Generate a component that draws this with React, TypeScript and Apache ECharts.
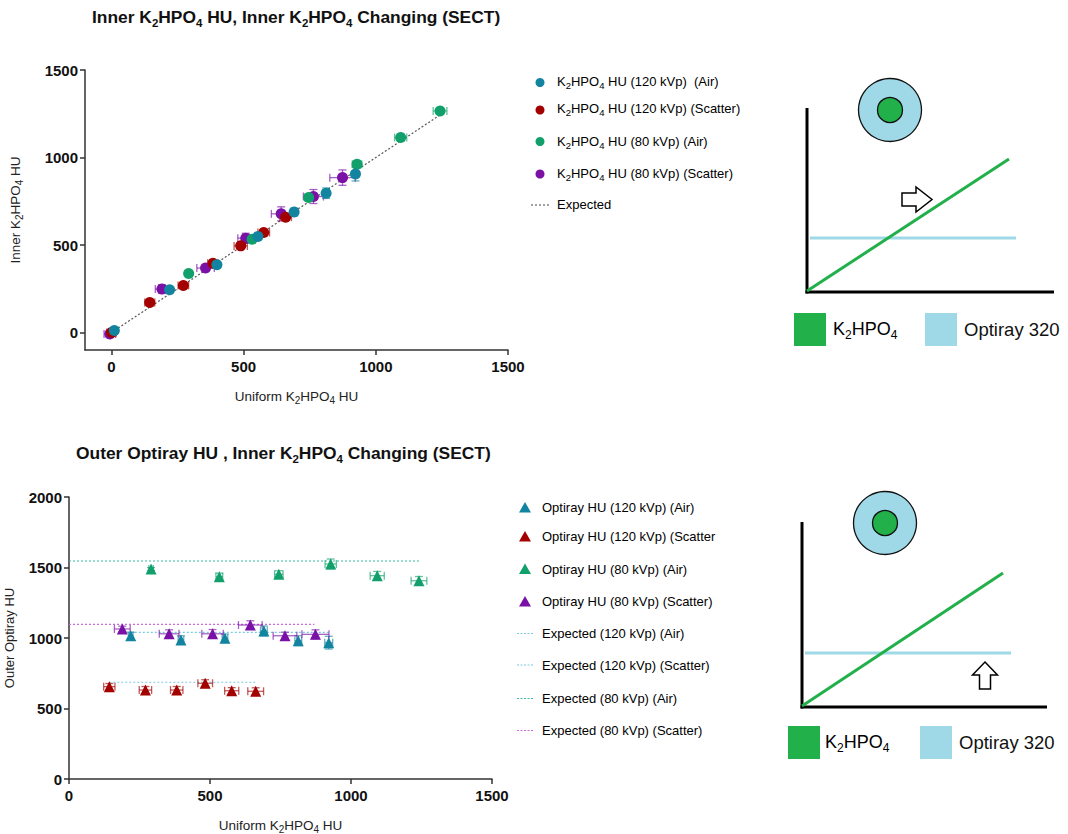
import React, { useEffect, useRef } from "react";
import * as echarts from "echarts";

const FONT = "'Liberation Sans', Arial, Helvetica, sans-serif";

// ---------- tick labels ----------
const xTicks = [0, 500, 1000, 1500];
const innerYTicks = [0, 500, 1000, 1500];
const outerYTicks = [0, 500, 1000, 1500, 2000];

// ---------- top chart: Inner K2HPO4 HU ----------
const inAir120X = [11, 220, 399, 554, 691, 812, 923];
const inAir120Y = [11, 244, 387, 548, 688, 796, 906];
const inAir120XErr = [6, 8, 8, 10, 10, 12, 12];
const inAir120YErr = [8, 12, 15, 18, 22, 30, 40];

const inSct120X = [0, 145, 272, 384, 489, 576, 659];
const inSct120Y = [0, 171, 269, 396, 495, 571, 659];
const inSct120XErr = [18, 19, 20, 20, 25, 22, 22];
const inSct120YErr = [6, 8, 7, 9, 8, 10, 9];

const inAir80X = [292, 532, 746, 929, 1094, 1243];
const inAir80Y = [337, 533, 771, 962, 1114, 1266];
const inAir80XErr = [10, 12, 15, 18, 23, 26];
const inAir80YErr = [6, 6, 8, 14, 10, 8];

const inSct80X = [-6, 191, 356, 508, 642, 764, 874];
const inSct80Y = [-8, 248, 368, 539, 678, 777, 885];
const inSct80XErr = [22, 25, 33, 30, 37, 38, 48];
const inSct80YErr = [10, 25, 15, 28, 40, 40, 44];

const expInnerX = [0, 1243];
const expInnerY = [0, 1243];

// ---------- bottom chart: Outer Optiray HU ----------
const outAir120X = [219, 397, 553, 691, 813, 921];
const outAir120Y = [1016, 986, 998, 1050, 981, 967];
const outAir120XErr = [8, 10, 10, 12, 12, 14];
const outAir120YErr = [25, 30, 30, 35, 35, 45];

const outSct120X = [143, 271, 382, 483, 577, 662];
const outSct120Y = [655, 631, 631, 679, 626, 622];
const outSct120XErr = [20, 22, 22, 26, 25, 28];
const outSct120YErr = [22, 25, 25, 25, 22, 25];

const outAir80X = [291, 533, 744, 928, 1093, 1241];
const outAir80Y = [1489, 1435, 1452, 1525, 1442, 1406];
const outAir80XErr = [8, 12, 15, 20, 25, 28];
const outAir80YErr = [10, 25, 25, 35, 30, 30];

const outSct80X = [189, 355, 509, 643, 766, 874];
const outSct80Y = [1064, 1030, 1030, 1092, 1016, 1026];
const outSct80XErr = [28, 35, 38, 42, 42, 48];
const outSct80YErr = [20, 28, 30, 30, 25, 32];

const expAir120X = [219, 921];
const expAir120Y = [1040, 1040];
const expSct120X = [143, 662];
const expSct120Y = [686, 686];
const expAir80X = [0, 1241];
const expAir80Y = [1546, 1546];
const expSct80X = [0, 870];
const expSct80Y = [1097, 1097];

// ---------- texts ----------
const title1 = "Inner K2HPO4 HU, Inner K2HPO4 Changing (SECT)";
const title2 = "Outer Optiray HU , Inner K2HPO4 Changing (SECT)";
const innerYName = "Inner K2HPO4 HU";
const uniformXName = "Uniform K2HPO4 HU";
const outerYName = "Outer Optiray HU";

const topLegend = [
  "K2HPO4 HU (120 kVp)  (Air)",
  "K2HPO4 HU (120 kVp) (Scatter)",
  "K2HPO4 HU (80 kVp) (Air)",
  "K2HPO4 HU (80 kVp) (Scatter)",
  "Expected",
];
const bottomLegend = [
  "Optiray HU (120 kVp) (Air)",
  "Optiray HU (120 kVp) (Scatter",
  "Optiray HU (80 kVp) (Air)",
  "Optiray HU (80 kVp) (Scatter)",
  "Expected (120 kVp) (Air)",
  "Expected (120 kVp) (Scatter)",
  "Expected (80 kVp) (Air)",
  "Expected (80 kVp) (Scatter)",
];
const diagramLabels = ["K2HPO4", "Optiray 320"];

// ---------- colours ----------
const C_TEAL = "#12849f";
const C_RED = "#a30000";
const C_GREEN = "#11a06b";
const C_PURPLE = "#7a10a6";
const C_EXP120 = "#7cc9dd";
const C_EXP80AIR = "#3dbba4";
const C_EXP80SCT = "#cc6ade";
const C_DIAG_GREEN = "#22b04b";
const C_DIAG_BLUE = "#9fd9e8";

function richK(s: string, a = "a", sb = "s"): string {
  const parts = s.split("K2HPO4");
  let out = "";
  parts.forEach((p, i) => {
    if (i > 0) out += `{${a}|K}{${sb}|2}{${a}|HPO}{${sb}|4}`;
    if (p) out += `{${a}|${p}}`;
  });
  return out;
}

const pairs = (xs: number[], ys: number[]) => xs.map((x, i) => [x, ys[i]]);

function errorSeries(
  xs: number[], ys: number[], xe: number[], ye: number[],
  color: string, idx: number
) {
  return {
    type: "custom",
    xAxisIndex: idx,
    yAxisIndex: idx,
    silent: true,
    z: 2,
    encode: { x: 0, y: 1 },
    data: xs.map((x, i) => [x, ys[i], xe[i], ye[i]]),
    renderItem: (params: any, api: any) => {
      const x = api.value(0), y = api.value(1), ex = api.value(2), ey = api.value(3);
      const c = api.coord([x, y]);
      const l = api.coord([x - ex, y]);
      const r = api.coord([x + ex, y]);
      const t = api.coord([x, y + ey]);
      const b = api.coord([x, y - ey]);
      const cap = 4;
      const style = { stroke: color, lineWidth: 1.3, fill: null, opacity: 0.65 };
      return {
        type: "group",
        children: [
          { type: "line", shape: { x1: l[0], y1: c[1], x2: r[0], y2: c[1] }, style },
          { type: "line", shape: { x1: l[0], y1: c[1] - cap, x2: l[0], y2: c[1] + cap }, style },
          { type: "line", shape: { x1: r[0], y1: c[1] - cap, x2: r[0], y2: c[1] + cap }, style },
          { type: "line", shape: { x1: c[0], y1: t[1], x2: c[0], y2: b[1] }, style },
          { type: "line", shape: { x1: c[0] - cap, y1: t[1], x2: c[0] + cap, y2: t[1] }, style },
          { type: "line", shape: { x1: c[0] - cap, y1: b[1], x2: c[0] + cap, y2: b[1] }, style },
        ],
      };
    },
  };
}

function scatterSeries(name: string, xs: number[], ys: number[], color: string, idx: number, symbol: string, size: number) {
  return {
    type: "scatter",
    name,
    xAxisIndex: idx,
    yAxisIndex: idx,
    symbol,
    symbolSize: size,
    z: 3,
    itemStyle: { color, opacity: 1 },
    data: pairs(xs, ys),
  };
}

function lineSeries(name: string, xs: number[], ys: number[], color: string, idx: number, dash: number[]) {
  return {
    type: "line",
    name,
    xAxisIndex: idx,
    yAxisIndex: idx,
    symbol: "none",
    silent: true,
    z: 1,
    lineStyle: { color, width: 1.2, type: dash },
    data: pairs(xs, ys),
  };
}

const plain = (v: number) => String(v);
const tickLabel = { fontSize: 15, fontWeight: "bold", color: "#111", fontFamily: FONT, formatter: plain };
const axisLine = { show: true, onZero: false, lineStyle: { color: "#333", width: 1.5 } };
const axisTick = (vals: number[]) => ({ show: true, length: 5, lineStyle: { color: "#333", width: 1.5 }, customValues: vals });

const nameRich = {
  a: { fontSize: 13.5, fontFamily: FONT, color: "#222", lineHeight: 16 },
  s: { fontSize: 10, fontFamily: FONT, color: "#222", lineHeight: 16, height: 7, verticalAlign: "bottom" },
};
const titleRich = {
  t: { fontSize: 17.4, fontWeight: "bold", fontFamily: FONT, color: "#111", lineHeight: 20 },
  s: { fontSize: 11.5, fontWeight: "bold", fontFamily: FONT, color: "#111", lineHeight: 20, height: 9, verticalAlign: "bottom" },
};
const legendRich = {
  a: { fontSize: 13, fontFamily: FONT, color: "#4a4a4a", lineHeight: 15 },
  s: { fontSize: 9.5, fontFamily: FONT, color: "#4a4a4a", lineHeight: 15, height: 6, verticalAlign: "bottom" },
};
const diagRich = {
  a: { fontSize: 18, fontFamily: FONT, color: "#111", lineHeight: 22 },
  s: { fontSize: 12, fontFamily: FONT, color: "#111", lineHeight: 22, height: 10, verticalAlign: "bottom" },
};

function buildGraphics() {
  const g: any[] = [];
  // top legend
  const topColors = [C_TEAL, C_RED, C_GREEN, C_PURPLE];
  const topMarkY = [82.5, 110, 141.5, 174];
  const topTextY = [81, 108, 141, 173, 204];
  topColors.forEach((c, i) => {
    g.push({ type: "circle", shape: { cx: 540, cy: topMarkY[i], r: 4.5 }, style: { fill: c } });
  });
  g.push({ type: "line", shape: { x1: 531, y1: 205, x2: 549, y2: 205 }, style: { stroke: "#444", lineWidth: 1, lineDash: [2, 2] } });
  topLegend.forEach((t, i) => {
    g.push({
      type: "text", x: 557, y: topTextY[i],
      style: { text: richK(t), rich: legendRich, verticalAlign: "middle", align: "left" },
    });
  });

  // bottom legend
  const botColors = [C_TEAL, C_RED, C_GREEN, C_PURPLE];
  const botLineColors = [C_EXP120, C_EXP120, C_EXP80AIR, C_EXP80SCT];
  const botY = [507.5, 536.5, 569, 601.5, 633.5, 665, 698.5, 730.5];
  botColors.forEach((c, i) => {
    const cy = botY[i];
    g.push({ type: "polygon", shape: { points: [[525, cy - 5.5], [531, cy + 5], [519, cy + 5]] }, style: { fill: c } });
  });
  botLineColors.forEach((c, i) => {
    const cy = botY[i + 4];
    g.push({ type: "line", shape: { x1: 517, y1: cy, x2: 534, y2: cy }, style: { stroke: c, lineWidth: 1.2, lineDash: [2, 1.5] } });
  });
  bottomLegend.forEach((t, i) => {
    g.push({
      type: "text", x: 542, y: botY[i],
      style: { text: `{a|${t}}`, rich: legendRich, verticalAlign: "middle", align: "left" },
    });
  });

  // diagrams
  const diag = (ox: number, oy: number, circ: [number, number], axisTop: number, axisBottom: number, axisRight: number,
    greenEnd: [number, number], blueY: number, blueX: [number, number], arrow: number[][], legY: number, legX: [number, number, number, number]) => {
    g.push({ type: "circle", shape: { cx: circ[0], cy: circ[1], r: 31.5 }, style: { fill: C_DIAG_BLUE, stroke: "#111", lineWidth: 1.3 } });
    g.push({ type: "circle", shape: { cx: circ[0], cy: circ[1], r: 12.5 }, style: { fill: C_DIAG_GREEN, stroke: "#111", lineWidth: 1.3 } });
    g.push({ type: "line", shape: { x1: ox, y1: axisTop, x2: ox, y2: axisBottom + 1.5 }, style: { stroke: "#000", lineWidth: 3 } });
    g.push({ type: "line", shape: { x1: ox - 1.5, y1: axisBottom, x2: axisRight, y2: axisBottom }, style: { stroke: "#000", lineWidth: 3 } });
    g.push({ type: "line", shape: { x1: blueX[0], y1: blueY, x2: blueX[1], y2: blueY }, style: { stroke: C_DIAG_BLUE, lineWidth: 3 } });
    g.push({ type: "line", shape: { x1: ox, y1: oy, x2: greenEnd[0], y2: greenEnd[1] }, style: { stroke: C_DIAG_GREEN, lineWidth: 3 } });
    g.push({ type: "polygon", shape: { points: arrow }, style: { fill: "#fff", stroke: "#000", lineWidth: 1.5 } });
    g.push({ type: "rect", shape: { x: legX[0], y: legY - 16, width: 32, height: 33 }, style: { fill: C_DIAG_GREEN } });
    g.push({ type: "text", x: legX[1], y: legY, style: { text: richK(diagramLabels[0]), rich: diagRich, verticalAlign: "middle", align: "left" } });
    g.push({ type: "rect", shape: { x: legX[2], y: legY - 16, width: 32, height: 33 }, style: { fill: C_DIAG_BLUE } });
    g.push({ type: "text", x: legX[3], y: legY, style: { text: diagramLabels[1], fill: "#111", fontSize: 18.5, fontFamily: FONT, verticalAlign: "middle", align: "left" } });
  };
  diag(807, 291, [890, 110], 108, 292, 1054, [1009, 159], 238, [810, 1016],
    [[902, 193], [916, 193], [916, 187], [932, 199.5], [916, 212], [916, 206], [902, 206]],
    329, [794, 833, 925, 964]);
  diag(802, 706, [885, 523], 522, 707, 1047, [1003, 573], 653, [805, 1011],
    [[985, 662], [997.5, 675], [990.5, 675], [990.5, 689], [979.5, 689], [979.5, 675], [972.5, 675]],
    742, [788, 825, 920, 959]);
  return g;
}

export default function App() {
  const ref = useRef<HTMLDivElement>(null);
  useEffect(() => {
    if (!ref.current) return;
    const chart = echarts.init(ref.current, undefined, { renderer: "svg" });
    const option: any = {
      animation: false,
      backgroundColor: "#fff",
      title: [
        { text: richK(title1, "t", "s"), left: 87, top: 2, textStyle: { rich: titleRich } },
        { text: richK(title2, "t", "s"), left: 71, top: 438, textStyle: { rich: titleRich } },
      ],
      grid: [
        { left: 85, top: 70, width: 423, height: 280, containLabel: false, outerBoundsMode: "none" },
        { left: 69, top: 497, width: 423, height: 282, containLabel: false, outerBoundsMode: "none" },
      ],
      xAxis: [
        {
          type: "value", gridIndex: 0, min: -100, max: 1500,
          splitLine: { show: false }, axisLine, axisTick: axisTick(xTicks),
          axisLabel: { ...tickLabel, margin: 9, customValues: xTicks },
          name: richK(uniformXName), nameLocation: "middle", nameGap: 38,
          nameTextStyle: { rich: nameRich },
        },
        {
          type: "value", gridIndex: 1, min: 0, max: 1500,
          splitLine: { show: false }, axisLine, axisTick: axisTick(xTicks),
          axisLabel: { ...tickLabel, margin: 9, customValues: xTicks },
          name: richK(uniformXName), nameLocation: "middle", nameGap: 38,
          nameTextStyle: { rich: nameRich },
        },
      ],
      yAxis: [
        {
          type: "value", gridIndex: 0, min: -100, max: 1500,
          splitLine: { show: false }, axisLine, axisTick: axisTick(innerYTicks),
          axisLabel: { ...tickLabel, margin: 7, customValues: innerYTicks },
          name: richK(innerYName), nameLocation: "middle", nameGap: 62, nameRotate: 90,
          nameTextStyle: { rich: nameRich },
        },
        {
          type: "value", gridIndex: 1, min: 0, max: 2000,
          splitLine: { show: false }, axisLine, axisTick: axisTick(outerYTicks),
          axisLabel: { ...tickLabel, margin: 7, customValues: outerYTicks },
          name: outerYName, nameLocation: "middle", nameGap: 53, nameRotate: 90,
          nameTextStyle: { fontSize: 13, fontFamily: FONT, color: "#222" },
        },
      ],
      series: [
        lineSeries("Expected", expInnerX, expInnerY, "#555", 0, [2, 2]),
        errorSeries(inSct80X, inSct80Y, inSct80XErr, inSct80YErr, C_PURPLE, 0),
        errorSeries(inSct120X, inSct120Y, inSct120XErr, inSct120YErr, C_RED, 0),
        errorSeries(inAir80X, inAir80Y, inAir80XErr, inAir80YErr, C_GREEN, 0),
        errorSeries(inAir120X, inAir120Y, inAir120XErr, inAir120YErr, C_TEAL, 0),
        scatterSeries("K2HPO4 HU (80 kVp) (Scatter)", inSct80X, inSct80Y, C_PURPLE, 0, "circle", 11),
        scatterSeries("K2HPO4 HU (120 kVp) (Scatter)", inSct120X, inSct120Y, C_RED, 0, "circle", 11),
        scatterSeries("K2HPO4 HU (80 kVp) (Air)", inAir80X, inAir80Y, C_GREEN, 0, "circle", 11),
        scatterSeries("K2HPO4 HU (120 kVp) (Air)", inAir120X, inAir120Y, C_TEAL, 0, "circle", 11),

        lineSeries("Expected (120 kVp) (Air)", expAir120X, expAir120Y, C_EXP120, 1, [2, 2]),
        lineSeries("Expected (120 kVp) (Scatter)", expSct120X, expSct120Y, C_EXP120, 1, [2, 2]),
        lineSeries("Expected (80 kVp) (Air)", expAir80X, expAir80Y, C_EXP80AIR, 1, [2, 2]),
        lineSeries("Expected (80 kVp) (Scatter)", expSct80X, expSct80Y, C_EXP80SCT, 1, [2, 2]),
        errorSeries(outAir120X, outAir120Y, outAir120XErr, outAir120YErr, C_TEAL, 1),
        errorSeries(outSct120X, outSct120Y, outSct120XErr, outSct120YErr, C_RED, 1),
        errorSeries(outAir80X, outAir80Y, outAir80XErr, outAir80YErr, C_GREEN, 1),
        errorSeries(outSct80X, outSct80Y, outSct80XErr, outSct80YErr, C_PURPLE, 1),
        scatterSeries("Optiray HU (120 kVp) (Air)", outAir120X, outAir120Y, C_TEAL, 1, "triangle", 11),
        scatterSeries("Optiray HU (120 kVp) (Scatter", outSct120X, outSct120Y, C_RED, 1, "triangle", 11),
        scatterSeries("Optiray HU (80 kVp) (Air)", outAir80X, outAir80Y, C_GREEN, 1, "triangle", 11),
        scatterSeries("Optiray HU (80 kVp) (Scatter)", outSct80X, outSct80Y, C_PURPLE, 1, "triangle", 11),
      ],
      graphic: buildGraphics(),
    };
    chart.setOption(option);
    return () => chart.dispose();
  }, []);
  return (
    <div
      ref={ref}
      style={{ position: "absolute", left: 0, top: 0, width: 1068, height: 834, background: "#fff" }}
    />
  );
}
